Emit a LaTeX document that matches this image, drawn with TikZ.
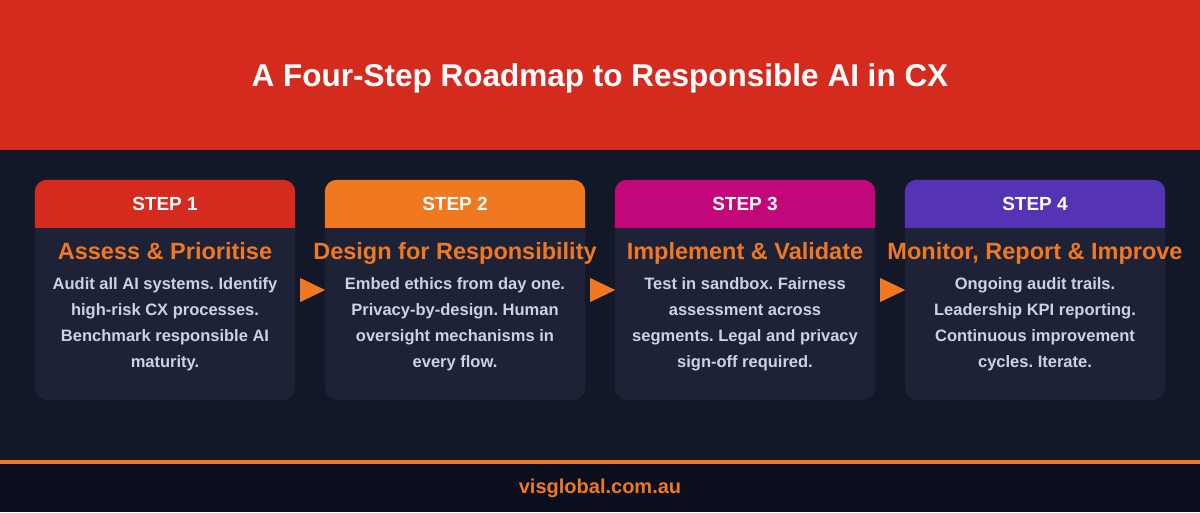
\documentclass[tikz,border=0pt]{standalone}
\usepackage{fontspec}
\setmainfont{Liberation Sans}
\usetikzlibrary{calc}
\definecolor{rouge}{HTML}{D52B1E}
\definecolor{orange}{HTML}{F07820}
\definecolor{magenta}{HTML}{C2077A}
\definecolor{violet}{HTML}{5533B5}
\definecolor{fond}{HTML}{131829}
\definecolor{fondcarte}{HTML}{1E2237}
\definecolor{fondpied}{HTML}{0B0E1E}
\definecolor{texte}{HTML}{CDD2E3}
\frenchspacing

\begin{document}
\begin{tikzpicture}[x=1pt, y=-1pt,
    carte/.style={fill=fondcarte, rounded corners=12pt, minimum width=260pt, minimum height=220pt, inner sep=0pt},
    etape/.style={anchor=base, text=white, font=\fontsize{19}{21}\selectfont\bfseries},
    titre/.style={anchor=base, text=orange, font=\fontsize{23.5}{26}\selectfont\bfseries},
    corps/.style={anchor=north, inner sep=0pt, align=center, text=texte, font=\fontsize{16.5}{26}\selectfont\bfseries}]
    \useasboundingbox (0,0) rectangle (1200,512);
    % Fond
    \fill[fond] (0,0) rectangle (1200,512);
    \fill[rouge] (0,0) rectangle (1200,150);
    \fill[fondpied] (0,464) rectangle (1200,512);
    \fill[orange] (0,460) rectangle (1200,464);
    % Titre et pied
    \node[anchor=base, text=white, font=\fontsize{31.5}{34}\selectfont\bfseries] (entete) at (600,86) {A Four-Step Roadmap to Responsible AI in CX};
    \node[anchor=base, text=orange, font=\fontsize{20}{22}\selectfont\bfseries] (site) at (600,493) {visglobal.com.au};
    % Cartes
    \foreach \i/\coul/\nom/\desc in {
        1/rouge/{Assess \& Prioritise}/{Audit all AI systems. Identify\\high-risk CX processes.\\Benchmark responsible AI\\maturity.},
        2/orange/{Design for Responsibility}/{Embed ethics from day one.\\Privacy-by-design. Human\\oversight mechanisms in\\every flow.},
        3/magenta/{Implement \& Validate}/{Test in sandbox. Fairness\\assessment across\\segments. Legal and privacy\\sign-off required.},
        4/violet/{Monitor, Report \& Improve}/{Ongoing audit trails.\\Leadership KPI reporting.\\Continuous improvement\\cycles. Iterate.}} {
      \node[carte] (c\i) at (165+290*\i-290,290) {};
      \fill[\coul, rounded corners=12pt] ($(c\i.north west)+(0,48)$) -- (c\i.north west) -- (c\i.north east) -- ($(c\i.north east)+(0,48)$);
      \node[etape] (s\i) at ($(c\i.north)+(0,30.5)$) {STEP \i};
      \node[titre] (t\i) at ($(c\i.north)+(0,80)$) {\nom};
      \node[corps] (d\i) at ($(c\i.north)+(0,98)$) {\desc};
    }
    % Fleches
    \foreach \i in {1,2,3}
      \fill[orange] ($(c\i.east)+(5,-12)$) -- ($(c\i.east)+(5,12)$) -- ($(c\i.east)+(30,0)$) -- cycle;
  \end{tikzpicture}
\end{document}
